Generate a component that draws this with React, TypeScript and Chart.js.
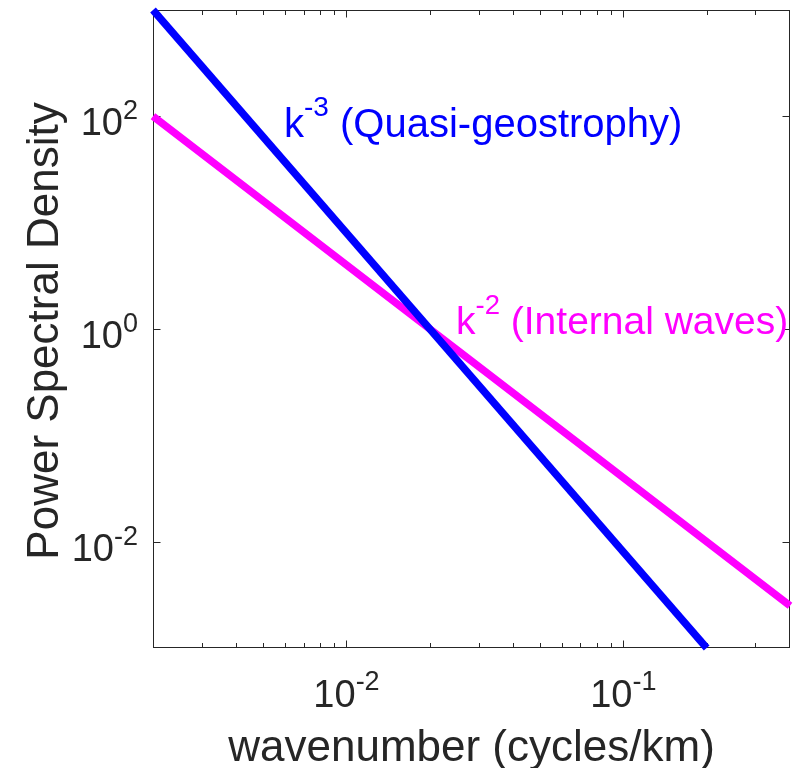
import { useEffect, useRef } from "react";
import { Chart, registerables } from "chart.js";

Chart.register(...registerables);

const WIDTH = 801;
const HEIGHT = 768;

// k^-3 spectrum (quasi-geostrophic turbulence)
const qgWavenumber = [0.002, 0.02, 0.2];
const qgPower = [1000, 1, 0.001];

// k^-2 spectrum (internal waves)
const iwWavenumber = [0.002, 0.02, 0.4];
const iwPower = [100, 1, 0.0025];

const xLimits = [0.002, 0.4];
const yLimits = [0.001, 1000];

const xMajorTicks = [0.01, 0.1];
const xTickExponents = ["-2", "-1"];
const xMinorTicks = [
  0.003, 0.004, 0.005, 0.006, 0.007, 0.008, 0.009,
  0.02, 0.03, 0.04, 0.05, 0.06, 0.07, 0.08, 0.09,
  0.2, 0.3,
];
const yMajorTicks = [0.01, 1, 100];
const yTickExponents = ["-2", "0", "2"];

const xTitle = "wavenumber (cycles/km)";
const yTitle = "Power Spectral Density";
const qgLabel = { base: "k", exp: "-3", text: " (Quasi-geostrophy)" };
const iwLabel = { base: "k", exp: "-2", text: " (Internal waves)" };

const QG_COLOR = "#0000ff";
const IW_COLOR = "#ff00ff";
const AXIS_COLOR = "#262626";
const FONT = '"Liberation Sans", Arial, Helvetica, sans-serif';

function font(size: number) {
  return `${size}px ${FONT}`;
}

// Draws "base" followed by a raised exponent; x is interpreted per align.
function drawPower(
  ctx: CanvasRenderingContext2D,
  x: number,
  y: number,
  base: string,
  exp: string,
  size: number,
  supSize: number,
  rise: number,
  align: "left" | "center" | "right",
  tail = ""
) {
  ctx.textAlign = "left";
  ctx.textBaseline = "alphabetic";
  ctx.font = font(size);
  const wBase = ctx.measureText(base).width;
  const wTail = tail ? ctx.measureText(tail).width : 0;
  ctx.font = font(supSize);
  const wExp = ctx.measureText(exp).width;
  const total = wBase + wExp + wTail;
  let start = x;
  if (align === "center") start = x - total / 2;
  if (align === "right") start = x - total;
  ctx.font = font(size);
  ctx.fillText(base, start, y);
  ctx.font = font(supSize);
  ctx.fillText(exp, start + wBase, y - rise);
  if (tail) {
    ctx.font = font(size);
    ctx.fillText(tail, start + wBase + wExp, y);
  }
}

const axesPlugin = {
  id: "axesBox",
  beforeDatasetsDraw(chart: any) {
    const { ctx, chartArea: a, scales } = chart;
    const xs = scales.x;
    const ys = scales.y;
    const left = Math.round(a.left) + 0.5;
    const right = Math.round(a.right) - 0.5;
    const top = Math.round(a.top) + 0.5;
    const bottom = Math.round(a.bottom) - 0.5;

    ctx.save();
    ctx.strokeStyle = AXIS_COLOR;
    ctx.lineWidth = 1;
    ctx.strokeRect(left, top, right - left, bottom - top);

    const tick = (x1: number, y1: number, x2: number, y2: number) => {
      ctx.beginPath();
      ctx.moveTo(x1, y1);
      ctx.lineTo(x2, y2);
      ctx.stroke();
    };

    // inward ticks on all four sides
    xMajorTicks.forEach((v) => {
      const px = Math.round(xs.getPixelForValue(v)) + 0.5;
      tick(px, bottom, px, bottom - 7);
      tick(px, top, px, top + 7);
    });
    xMinorTicks.forEach((v) => {
      const px = Math.round(xs.getPixelForValue(v)) + 0.5;
      tick(px, bottom, px, bottom - 4.5);
      tick(px, top, px, top + 4.5);
    });
    yMajorTicks.forEach((v) => {
      const py = Math.round(ys.getPixelForValue(v)) + 0.5;
      tick(left, py, left + 7, py);
      tick(right, py, right - 7, py);
    });

    // tick labels
    ctx.fillStyle = AXIS_COLOR;
    xMajorTicks.forEach((v, i) => {
      const px = xs.getPixelForValue(v);
      drawPower(ctx, px, a.bottom + 59, "10", xTickExponents[i], 38, 27, 17, "center");
    });
    yMajorTicks.forEach((v, i) => {
      const py = ys.getPixelForValue(v);
      drawPower(ctx, a.left - 15, py + 19, "10", yTickExponents[i], 38, 27, 16, "right");
    });

    // axis titles
    ctx.font = font(44);
    ctx.textAlign = "center";
    ctx.textBaseline = "alphabetic";
    ctx.fillText(xTitle, (a.left + a.right) / 2, 761);
    ctx.save();
    ctx.translate(58, (a.top + a.bottom) / 2 + 2);
    ctx.rotate(-Math.PI / 2);
    ctx.fillText(yTitle, 0, 0);
    ctx.restore();
    ctx.restore();
  },
  afterDatasetsDraw(chart: any) {
    const { ctx } = chart;
    ctx.save();
    ctx.fillStyle = QG_COLOR;
    drawPower(ctx, 284, 137, qgLabel.base, qgLabel.exp, 40, 28, 21, "left", qgLabel.text);
    ctx.fillStyle = IW_COLOR;
    drawPower(ctx, 456, 334, iwLabel.base, iwLabel.exp, 39, 27.5, 20.5, "left", iwLabel.text);
    ctx.restore();
  },
};

export default function App() {
  const canvasRef = useRef<HTMLCanvasElement | null>(null);

  useEffect(() => {
    const canvas = canvasRef.current;
    if (!canvas) return;
    const chart = new Chart(canvas, {
      type: "line",
      data: {
        datasets: [
          {
            label: "k^-3",
            data: qgWavenumber.map((k, i) => ({ x: k, y: qgPower[i] })),
            borderColor: QG_COLOR,
            borderWidth: 7.5,
            pointRadius: 0,
            fill: false,
            tension: 0,
            clip: false,
          },
          {
            label: "k^-2",
            data: iwWavenumber.map((k, i) => ({ x: k, y: iwPower[i] })),
            borderColor: IW_COLOR,
            borderWidth: 7.5,
            pointRadius: 0,
            fill: false,
            tension: 0,
            clip: false,
          },
        ],
      },
      options: {
        responsive: false,
        animation: false,
        devicePixelRatio: 1,
        layout: { padding: { left: 153, right: 11, top: 10, bottom: 120 } },
        plugins: {
          legend: { display: false },
          tooltip: { enabled: false },
        },
        scales: {
          x: {
            type: "logarithmic",
            min: xLimits[0],
            max: xLimits[1],
            display: false,
          },
          y: {
            type: "logarithmic",
            min: yLimits[0],
            max: yLimits[1],
            display: false,
          },
        },
      },
      plugins: [axesPlugin],
    });
    return () => chart.destroy();
  }, []);

  return (
    <div style={{ position: "absolute", left: 0, top: 0, width: WIDTH, height: HEIGHT, background: "#fff" }}>
      <canvas ref={canvasRef} width={WIDTH} height={HEIGHT} />
    </div>
  );
}
